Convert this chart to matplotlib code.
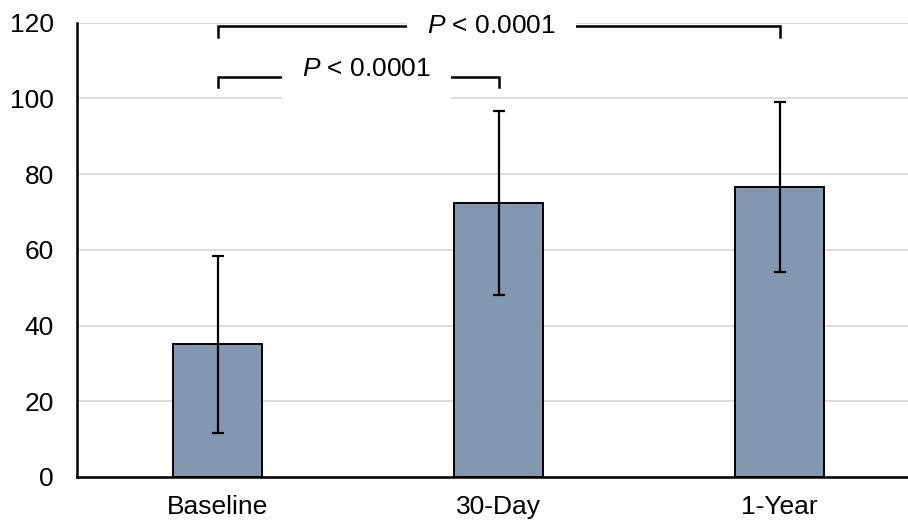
import numpy as np
import matplotlib
matplotlib.use("Agg")
from matplotlib import pyplot as plt

plt.rcParams['font.family'] = ['Liberation Sans', 'DejaVu Sans']
plt.rcParams['mathtext.fontset'] = 'custom'
plt.rcParams['mathtext.it'] = 'Liberation Sans:italic'
plt.rcParams['mathtext.rm'] = 'Liberation Sans'

# data
groups = ['Baseline', '30-Day', '1-Year']
means = [35.0, 72.4, 76.6]
sds = [23.5, 24.3, 22.4]
yticks = [0, 20, 40, 60, 80, 100, 120]

# significance brackets: (from group, to group, bar level, drop, label x, label baseline)
brackets = [(0, 2, 119.2, 2.9, 0.975, 117.2),
            (0, 1, 105.7, 2.6, 0.53, 105.8)]
p_label = r'$P$ < 0.0001'

fig = plt.figure(figsize=(9.08, 5.27), dpi=100)
ax = fig.add_axes([77.3/908, 50/527, 843/908, 454.3/527])

x = np.arange(len(groups))
ax.bar(x, means, width=0.317, color='#8497B0', edgecolor='black',
       linewidth=1.4, zorder=2)
ax.errorbar(x, means, yerr=sds, fmt='none', ecolor='black',
            elinewidth=1.6, capsize=4.5, capthick=1.6, zorder=3)

ax.set_xlim(-0.499, 2.501)
ax.set_ylim(0, 120)
ax.set_yticks(yticks)
ax.set_xticks(x)
ax.set_xticklabels(groups)
ax.tick_params(axis='both', length=0, labelsize=19)
ax.tick_params(axis='y', pad=17)
ax.tick_params(axis='x', pad=13)
ax.yaxis.grid(True, color='#D9D9D9', linewidth=1.3, zorder=0)
ax.set_axisbelow(True)

for s in ['top', 'right']:
    ax.spines[s].set_visible(False)
for s in ['left', 'bottom']:
    ax.spines[s].set_linewidth(1.8)
    ax.spines[s].set_zorder(4)

for a, b, level, drop, tx, ty in brackets:
    ax.plot([a, a, b, b], [level - drop, level, level, level - drop],
            color='black', linewidth=1.8, clip_on=False, zorder=5,
            solid_joinstyle='miter')
    ax.text(tx, ty, p_label, ha='center', va='baseline', fontsize=19,
            zorder=6, clip_on=False,
            bbox=dict(boxstyle='square,pad=0.75', facecolor='white',
                      edgecolor='none'))

plt.savefig('out.png', dpi=100)
